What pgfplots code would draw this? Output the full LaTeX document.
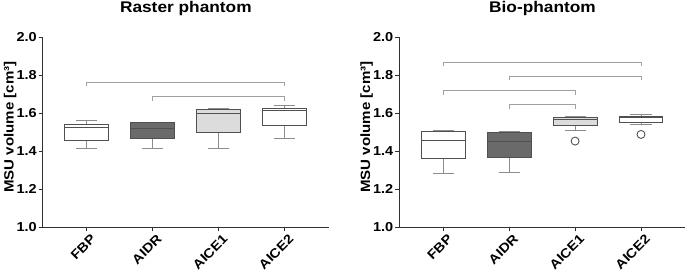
\documentclass[border=0pt]{standalone}
\usepackage{fontspec}
\setmainfont{Liberation Sans}[FakeStretch=1.12]
\usepackage{pgfplots}
\pgfplotsset{compat=1.18}
\usepgfplotslibrary{statistics}

\definecolor{edge}{HTML}{505050}
\definecolor{whisk}{HTML}{8C8C8C}
\definecolor{brk}{HTML}{A0A0A0}
\definecolor{darkfill}{HTML}{6A6A6A}
\definecolor{lightfill}{HTML}{DCDCDC}
\definecolor{axcol}{HTML}{303030}

\pgfplotsset{
  panel/.style={
    scale only axis, width=286.3bp, height=190.3bp,
    xmin=0.332, xmax=4.677, ymin=1, ymax=2,
    axis x line*=bottom, axis y line*=left,
    axis line style={-, draw=axcol, line width=1pt},
    every tick/.style={draw=axcol, line width=0.9pt},
    tick align=outside,
    major tick length=4bp,
    ytick={1,1.2,1.4,1.6,1.8,2.0},
    yticklabel style={/pgf/number format/fixed, /pgf/number format/fixed zerofill, /pgf/number format/precision=1, /pgf/number format/assume math mode=true},
    yticklabel style={font=\bfseries\fontsize{13}{13}\selectfont, xshift=1.5bp},
    xtick={1,2,3,4},
    xticklabels={FBP,AIDR,AICE1,AICE2},
    x tick label style={rotate=45, anchor=north east, font=\bfseries\fontsize{13}{13}\selectfont, inner sep=1bp, yshift=-3bp, xshift=2bp},
    ylabel={MSU volume [cm³]},
    ylabel style={at={(axis description cs:-0.114,0.527)}, anchor=center, font=\bfseries\fontsize{13.5}{13.5}\selectfont},
    every axis title shift=0pt,
    title style={at={(axis description cs:0.5,1)}, anchor=base, yshift=24bp, inner sep=0pt, font=\bfseries\fontsize{15.5}{15.5}\selectfont},
    clip=false,
    boxplot/draw direction=y,
    boxplot/box extend=0.667,
    boxplot/whisker extend=0.32,
    boxplot/every whisker/.style={draw=whisk, line width=1pt},
    boxplot/every box/.style={draw=edge, line width=1pt},
    boxplot/every median/.style={draw=edge, line width=1pt},
  },
  bx/.style={solid, line width=1pt, draw=edge},
  brkt/.style={draw=brk, line width=0.9pt, mark=none},
}

\begin{document}
\begin{tikzpicture}
\path[use as bounding box] (0,0) rectangle (685bp,273bp);

% ---------------- Raster phantom ----------------
\begin{axis}[panel, at={(42.7bp,45.7bp)}, anchor=origin, title={Raster phantom}]
\addplot[bx, fill=white, boxplot prepared={draw position=1, lower whisker=1.414, lower quartile=1.456, median=1.523, upper quartile=1.540, upper whisker=1.560}] coordinates {};
\addplot[bx, fill=darkfill, boxplot prepared={draw position=2, lower whisker=1.414, lower quartile=1.465, median=1.519, upper quartile=1.549, upper whisker=1.553}] coordinates {};
\addplot[bx, fill=lightfill, boxplot prepared={draw position=3, lower whisker=1.414, lower quartile=1.498, median=1.598, upper quartile=1.619, upper whisker=1.625}] coordinates {};
\addplot[bx, fill=white, boxplot prepared={draw position=4, lower whisker=1.465, lower quartile=1.537, median=1.612, upper quartile=1.625, upper whisker=1.639}] coordinates {};
\addplot[brkt] coordinates {(1,1.740) (1,1.762) (4,1.762) (4,1.740)};
\addplot[brkt] coordinates {(2,1.666) (2,1.688) (4,1.688) (4,1.666)};
\end{axis}

% ---------------- Bio-phantom ----------------
\begin{axis}[panel, at={(399.3bp,45.7bp)}, anchor=origin, title={Bio-phantom}]
\addplot[bx, fill=white, boxplot prepared={draw position=1, lower whisker=1.281, lower quartile=1.361, median=1.456, upper quartile=1.505, upper whisker=1.509}] coordinates {};
\addplot[bx, fill=darkfill, boxplot prepared={draw position=2, lower whisker=1.286, lower quartile=1.368, median=1.453, upper quartile=1.498, upper whisker=1.503}] coordinates {};
\addplot[bx, fill=lightfill, boxplot prepared={draw position=3, lower whisker=1.509, lower quartile=1.533, median=1.567, upper quartile=1.579, upper whisker=1.583}] coordinates {};
\addplot[bx, fill=white, boxplot prepared={draw position=4, lower whisker=1.538, lower quartile=1.553, median=1.577, upper quartile=1.583, upper whisker=1.593}] coordinates {};
\addplot[only marks, mark=o, mark size=4bp, draw=edge, line width=0.9pt] coordinates {(3,1.453) (4,1.488)};
\addplot[brkt] coordinates {(1,1.846) (1,1.868) (4,1.868) (4,1.846)};
\addplot[brkt] coordinates {(2,1.773) (2,1.795) (4,1.795) (4,1.773)};
\addplot[brkt] coordinates {(1,1.697) (1,1.719) (3,1.719) (3,1.697)};
\addplot[brkt] coordinates {(2,1.624) (2,1.646) (3,1.646) (3,1.624)};
\end{axis}
\end{tikzpicture}
\end{document}
